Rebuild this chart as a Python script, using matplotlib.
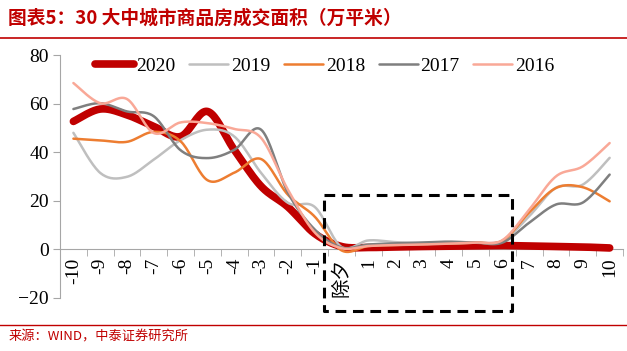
import numpy as np
import matplotlib
matplotlib.use('Agg')
import matplotlib.pyplot as plt
from matplotlib.lines import Line2D

plt.rcParams['font.family'] = ['Liberation Serif', 'Noto Sans CJK SC']

# categories: days relative to Chinese New Year's Eve
days = ['-10', '-9', '-8', '-7', '-6', '-5', '-4', '-3', '-2', '-1', '除夕',
        '1', '2', '3', '4', '5', '6', '7', '8', '9', '10']

y2020 = [52.7, 57.8, 55.4, 50.6, 46.5, 56.8, 41.0, 26.0, 17.5, 6.5, 1.2,
         0.8, 1.0, 1.2, 1.3, 1.5, 1.6, 1.4, 1.2, 1.0, 0.6]
y2019 = [48.0, 31.5, 29.9, 37.0, 45.0, 49.3, 46.5, 31.5, 19.2, 17.5, 1.0,
         3.7, 3.0, 2.5, 2.5, 2.8, 3.5, 13.7, 25.4, 26.7, 37.7]
y2018 = [45.6, 44.9, 44.3, 48.4, 44.5, 28.5, 31.6, 37.2, 22.5, 13.5, -0.4,
         1.4, 1.8, 2.2, 2.5, 2.8, 3.6, 15.2, 25.3, 25.6, 19.8]
y2017 = [57.8, 60.2, 56.8, 54.8, 40.8, 37.6, 41.0, 49.3, 23.4, 8.2, 0.8,
         2.0, 2.5, 2.8, 3.2, 2.8, 2.8, 11.0, 18.5, 19.3, 30.8]
y2016 = [68.5, 60.2, 61.9, 47.9, 52.3, 52.0, 49.6, 45.9, 24.6, 7.0, 0.5,
         1.4, 1.8, 2.0, 2.4, 2.8, 3.8, 16.4, 30.1, 34.2, 43.8]

series = [('2020', y2020, '#C00000', 5.5),
          ('2019', y2019, '#BFBFBF', 1.8),
          ('2018', y2018, '#ED7D31', 1.8),
          ('2017', y2017, '#7F7F7F', 1.8),
          ('2016', y2016, '#F9A897', 1.8)]


def smooth(x, y, n=20):
    # catmull-rom style smoothing like excel "smoothed line"
    x = np.asarray(x, float)
    y = np.asarray(y, float)
    px = np.concatenate([[x[0]], x, [x[-1]]])
    py = np.concatenate([[y[0]], y, [y[-1]]])
    xs, ys = [], []
    t = np.linspace(0, 1, n, endpoint=False)
    for i in range(1, len(px) - 2):
        p0 = np.array([px[i], py[i]])
        p3 = np.array([px[i + 1], py[i + 1]])
        c1 = p0 + (p3 - np.array([px[i - 1], py[i - 1]])) / 6
        c2 = p3 - (np.array([px[i + 2], py[i + 2]]) - p0) / 6
        b = ((1 - t) ** 3)[:, None] * p0 + (3 * (1 - t) ** 2 * t)[:, None] * c1 \
            + (3 * (1 - t) * t ** 2)[:, None] * c2 + (t ** 3)[:, None] * p3
        xs.extend(b[:, 0])
        ys.extend(b[:, 1])
    xs.append(x[-1])
    ys.append(y[-1])
    return np.array(xs), np.array(ys)


fig = plt.figure(figsize=(6.27, 3.51), dpi=100)
ax = fig.add_axes([0.0957, 0.151, 0.898, 0.692])

x = np.arange(len(days))
handles = []
for name, vals, col, lw in series:
    sx, sy = smooth(x, vals)
    ax.plot(sx, sy, color=col, lw=lw, solid_capstyle='round', zorder=3)
    handles.append(Line2D([0], [0], color=col, lw=lw, solid_capstyle='round'))

ax.set_xlim(-0.5, len(days) - 0.5)
ax.set_ylim(-20, 80)
ax.set_yticks([-20, 0, 20, 40, 60, 80])

for s in ['top', 'right']:
    ax.spines[s].set_visible(False)
ax.spines['bottom'].set_position(('data', 0))
ax.spines['bottom'].set_color('#A6A6A6')
ax.spines['left'].set_color('#A6A6A6')

ax.set_xticks(x)
ax.set_xticklabels(days, rotation=90, va='top', ha='center')
ax.set_xticks(np.arange(-0.5, len(days), 1), minor=True)
ax.tick_params(axis='x', which='major', length=0, pad=6, labelsize=14)
ax.tick_params(axis='x', which='minor', length=5, color='#A6A6A6', direction='out')
ax.tick_params(axis='y', length=5, color='#A6A6A6', pad=3, labelsize=14)

# dashed box around the new-year holiday
bx = [9.35, 16.37, 16.37, 9.35, 9.35]
by = [22.6, 22.6, -25.3, -25.3, 22.6]
ax.plot(bx, by, color='black', lw=2.2, ls=(0, (3.5, 2.2)), clip_on=False, zorder=5)

fig.legend(handles, [s[0] for s in series], ncol=5, frameon=False,
           loc='center', bbox_to_anchor=(0.5175, 0.812), fontsize=14,
           handlelength=2.0, handletextpad=0.15, columnspacing=0.7)

# title and source
red = '#C00000'
fig.text(0.013, 0.949, '图表5：30 大中城市商品房成交面积（万平米）', color=red,
         fontsize=13.5, fontweight='bold', va='center', ha='left',
         family=['Noto Sans CJK SC', 'DejaVu Sans'])
fig.add_artist(Line2D([0, 1], [0.892, 0.892], color=red, lw=1.2))
fig.add_artist(Line2D([0, 1], [0.074, 0.074], color=red, lw=1.0))
fig.text(0.013, 0.040, '来源：WIND，中泰证券研究所', color=red, fontsize=9.5,
         va='center', ha='left', family=['Noto Sans CJK SC', 'DejaVu Sans'])

fig.savefig('out.png', dpi=100)
